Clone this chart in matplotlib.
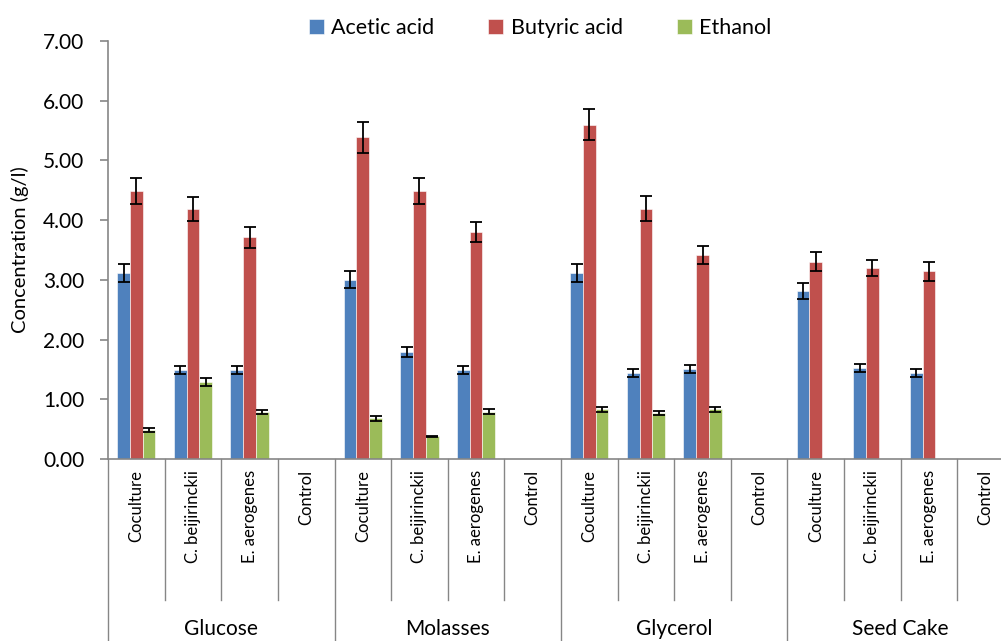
import numpy as np
import matplotlib
matplotlib.use("Agg")
import matplotlib.pyplot as plt
import matplotlib.transforms as mtransforms

plt.rcParams['font.family'] = ['Lato', 'DejaVu Sans']

groups = ["Glucose", "Molasses", "Glycerol", "Seed Cake"]
strains = ["Coculture", "C. beijirinckii", "E. aerogenes", "Control"]

acetic = [3.11, 1.49, 1.49, 0.0,
          3.00, 1.79, 1.49, 0.0,
          3.11, 1.44, 1.51, 0.0,
          2.81, 1.52, 1.44, 0.0]
acetic_err = [0.15, 0.07, 0.07, 0.0,
              0.14, 0.08, 0.07, 0.0,
              0.15, 0.07, 0.07, 0.0,
              0.13, 0.07, 0.07, 0.0]
butyric = [4.49, 4.19, 3.71, 0.0,
           5.39, 4.49, 3.80, 0.0,
           5.60, 4.19, 3.42, 0.0,
           3.30, 3.20, 3.14, 0.0]
butyric_err = [0.22, 0.20, 0.18, 0.0,
               0.26, 0.22, 0.17, 0.0,
               0.26, 0.21, 0.15, 0.0,
               0.16, 0.14, 0.16, 0.0]
ethanol = [0.49, 1.29, 0.79, 0.0,
           0.68, 0.38, 0.79, 0.0,
           0.83, 0.77, 0.83, 0.0,
           0.0, 0.0, 0.0, 0.0]
ethanol_err = [0.03, 0.07, 0.03, 0.0,
               0.04, 0.01, 0.04, 0.0,
               0.04, 0.04, 0.04, 0.0,
               0.0, 0.0, 0.0, 0.0]

series = [("Acetic acid", acetic, acetic_err, "#4F81BD"),
          ("Butyric acid", butyric, butyric_err, "#C0504D"),
          ("Ethanol", ethanol, ethanol_err, "#9BBB59")]

W, H = 1001, 641
fig = plt.figure(figsize=(W / 100, H / 100), dpi=100)
ax = fig.add_axes([108 / W, (H - 459) / H, (1014 - 108) / W, (459 - 41) / H])

n = len(groups) * len(strains)
x = np.arange(n) + 0.5
bw = 0.225
for k, (name, vals, errs, col) in enumerate(series):
    pos = x + (k - 1) * bw
    ax.bar(pos, vals, bw, color=col, edgecolor="white", linewidth=0.4, label=name, zorder=2)
    v = np.array(vals)
    e = np.array(errs)
    m = v > 0
    ax.errorbar(pos[m], v[m], yerr=e[m], fmt="none", ecolor="black",
                elinewidth=1.3, capsize=4, capthick=1.3, zorder=3)

ax.set_xlim(0, n)
ax.set_ylim(0, 7)
ax.set_yticks(np.arange(0, 8, 1))
ax.set_yticklabels(["%.2f" % t for t in np.arange(0, 8, 1)], fontsize=15)
ax.set_xticks([])
for s in ["top", "right"]:
    ax.spines[s].set_visible(False)
for s in ["left", "bottom"]:
    ax.spines[s].set_color("#868686")
    ax.spines[s].set_linewidth(1.2)
ax.tick_params(axis="y", length=6, width=1.2, color="#868686", pad=11)
ax.set_ylabel("Concentration (g/l)", fontsize=14.5, labelpad=10)

# category axis: separators and labels
trans = mtransforms.blended_transform_factory(ax.transData, ax.transAxes)
for b in range(n + 1):
    bottom = -0.6 if b % 4 == 0 else -0.337
    ax.plot([b, b], [0, bottom], transform=trans, color="#868686", lw=1.0,
            clip_on=False)
for i in range(n):
    ax.text(x[i], -0.027, strains[i % 4], transform=trans, rotation=90,
            ha="center", va="top", fontsize=12)
for g, name in enumerate(groups):
    ax.text(g * 4 + 2, -0.4305, name, transform=trans, ha="center",
            va="bottom", fontsize=15)

fig.legend(loc="center", bbox_to_anchor=(540 / W, 1 - 28 / H), ncol=3,
           frameon=False, fontsize=15.5, handlelength=0.7, handleheight=0.7,
           handletextpad=0.35, columnspacing=2.5)

fig.savefig("out.png", dpi=100)
